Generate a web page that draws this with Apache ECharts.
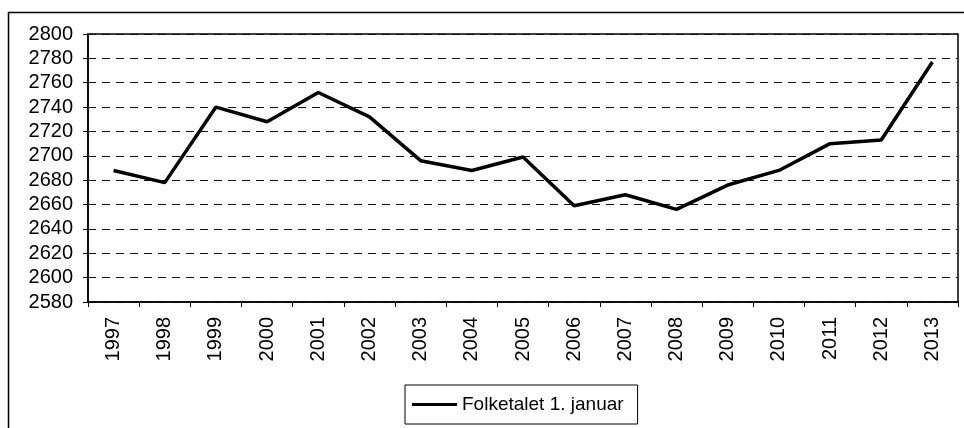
<!DOCTYPE html>
<html>
<head>
<meta charset="utf-8">
<script src="https://cdn.jsdelivr.net/npm/echarts@6/dist/echarts.min.js"></script>
<style>
  html, body { margin: 0; padding: 0; background: #fff; }
  #main { width: 964px; height: 428px; }
</style>
</head>
<body>
<div id="main"></div>
<script>
const years = ["1997", "1998", "1999", "2000", "2001", "2002", "2003", "2004", "2005",
  "2006", "2007", "2008", "2009", "2010", "2011", "2012", "2013"]
const folketal = [2688, 2678, 2740, 2728, 2752, 2732, 2696, 2688, 2699,
  2659, 2668, 2656, 2676, 2688, 2710, 2713, 2777]
const seriesName = "Folketalet 1. januar"

const font = "'Liberation Sans', Arial, sans-serif"
const chart = echarts.init(document.getElementById("main"))

chart.setOption({
  backgroundColor: "#fff",
  animation: false,
  textStyle: { fontFamily: font, color: "#000" },
  // ytre ramme rundt heile figuren
  graphic: [
    {
      type: "rect",
      left: 6,
      top: 10,
      shape: { width: 980, height: 440 },
      style: { fill: "none", stroke: "#000", lineWidth: 1.5 },
      silent: true
    }
  ],
  grid: {
    left: 88,
    top: 34,
    right: 6,
    bottom: 126,
    show: true,
    borderColor: "#000",
    borderWidth: 1.5
  },
  legend: {
    data: [seriesName],
    left: 405,
    top: 385,
    icon: "rect",
    itemWidth: 45,
    itemHeight: 3,
    padding: [10, 14, 10, 7],
    borderColor: "#000",
    borderWidth: 1,
    textStyle: { fontFamily: font, fontSize: 19, color: "#000" }
  },
  xAxis: {
    type: "category",
    data: years,
    boundaryGap: true,
    axisLine: { lineStyle: { color: "#000", width: 1.5 } },
    axisTick: { show: true, alignWithLabel: false, length: 5, lineStyle: { color: "#000" } },
    axisLabel: { rotate: 90, margin: 15, fontSize: 20, color: "#000", fontFamily: font }
  },
  yAxis: {
    type: "value",
    min: 2580,
    max: 2800,
    interval: 20,
    axisLine: { show: true, lineStyle: { color: "#000", width: 1.5 } },
    axisTick: { show: true, length: 5, lineStyle: { color: "#000" } },
    axisLabel: {
      margin: 15,
      fontSize: 20,
      color: "#000",
      fontFamily: font,
      formatter: (v) => String(v)
    },
    splitLine: { lineStyle: { color: "#111", type: [8, 6], width: 1 } }
  },
  series: [
    {
      name: seriesName,
      type: "line",
      data: folketal,
      symbol: "none",
      color: "#000",
      lineStyle: { color: "#000", width: 3.5 }
    }
  ]
})
</script>
</body>
</html>
